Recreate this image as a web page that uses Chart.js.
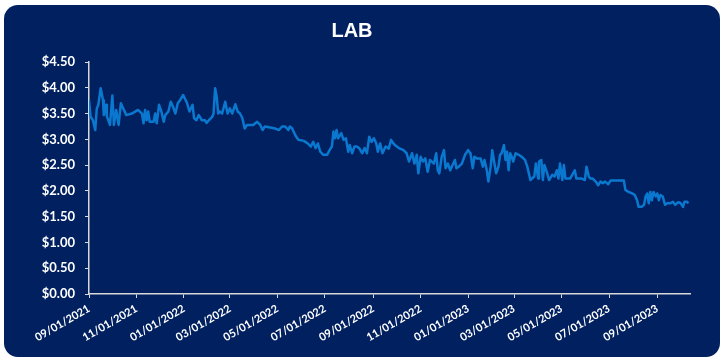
<!DOCTYPE html>
<html>
<head>
<meta charset="utf-8">
<script src="https://cdn.jsdelivr.net/npm/chart.js@4.4.1/dist/chart.umd.min.js"></script>
<style>
  html, body { margin: 0; padding: 0; background: #ffffff; }
  .card {
    position: absolute; left: 4px; top: 5px;
    width: 716px; height: 352px;
    background: #002060; border-radius: 14px; overflow: hidden;
  }
  canvas { display: block; }
</style>
</head>
<body>
<div class="card"><canvas id="labChart" width="716" height="352"></canvas></div>
<script>
// days since 09/01/2021 for each observation
const dayOffsets = [
  0, 2, 5, 8, 10, 12, 15, 18, 19, 22, 23, 27, 30, 32, 35, 38, 41, 44, 48, 55, 63, 68, 70, 72, 74, 76, 78, 83, 85, 87, 90, 93, 96, 98, 102, 105, 108, 111, 114, 117, 121, 126, 129,
  133, 135, 138, 141, 145, 149, 151, 154, 158, 160, 162, 164, 166, 168, 171, 175, 178, 181, 184, 188, 191, 194, 197, 200, 203, 207, 211, 216, 220, 223, 226, 233, 239, 244, 248, 252, 256,
  258, 261, 265, 269, 276, 281, 285, 288, 291, 294, 297, 301, 306, 309, 312, 314, 316, 318, 320, 324, 327, 330, 333, 335, 338, 341, 344, 347, 351, 354, 357, 360, 363, 366, 369, 371, 374, 377, 381, 385, 388,
  391, 393, 398, 404, 408, 411, 415, 418, 421, 423, 426, 429, 432, 435, 438, 443, 446, 448, 450, 453, 456, 458, 461, 464, 466, 470, 472, 475, 479, 483, 487, 490, 493, 495, 498, 503, 506, 508, 511, 513, 516,
  518, 520, 523, 526, 528, 530, 533, 535, 537, 539, 541, 543, 545, 548, 552, 556, 560, 563, 567, 569, 572, 574, 577, 578, 581, 583, 585, 588, 591, 595, 598, 601, 603, 605, 608, 610, 612, 618, 624, 626, 633, 637, 639, 642,
  644, 647, 651, 654, 657, 660, 663, 667, 670, 680, 687, 689, 693, 698, 701, 704, 706, 710, 713, 715, 717, 719, 721, 723, 725, 728, 730, 732, 734, 737, 740, 743, 747, 750, 753, 757, 760, 763, 765, 768, 770
];

const prices = [
  3.76, 3.44, 3.37, 3.18, 3.60, 3.67, 3.99, 3.76, 3.47, 3.67, 3.44, 3.28, 3.85, 3.28, 3.57, 3.28, 3.70, 3.60, 3.47, 3.50, 3.57, 3.50, 3.31, 3.57, 3.37, 3.54, 3.34, 3.34, 3.50, 3.31, 3.67, 3.54, 3.34, 3.47, 3.54, 3.73, 3.63, 3.50, 3.70, 3.76, 3.86, 3.70, 3.54,
  3.67, 3.41, 3.37, 3.47, 3.37, 3.37, 3.32, 3.37, 3.43, 3.50, 3.99, 3.83, 3.50, 3.54, 3.50, 3.73, 3.50, 3.60, 3.50, 3.68, 3.54, 3.50, 3.41, 3.21, 3.28, 3.28, 3.28, 3.34, 3.28, 3.18, 3.25, 3.23, 3.21, 3.18, 3.25, 3.25, 3.18,
  3.25, 3.21, 3.08, 2.99, 2.97, 2.92, 2.86, 2.95, 2.83, 2.92, 2.76, 2.70, 2.70, 2.79, 2.86, 3.15, 3.02, 3.18, 3.02, 3.12, 2.99, 3.02, 2.76, 2.89, 2.73, 2.86, 2.86, 2.83, 2.73, 2.83, 2.73, 3.05, 2.95, 3.02, 2.92, 2.76, 2.92, 2.73, 2.86, 2.82, 2.99,
  2.92, 2.89, 2.83, 2.79, 2.73, 2.57, 2.73, 2.53, 2.70, 2.34, 2.66, 2.57, 2.63, 2.37, 2.60, 2.53, 2.73, 2.40, 2.34, 2.66, 2.79, 2.44, 2.53, 2.40, 2.47, 2.60, 2.44, 2.47, 2.53, 2.70, 2.79, 2.73, 2.44, 2.66, 2.63, 2.63, 2.47, 2.60, 2.40, 2.18, 2.47,
  2.79, 2.60, 2.34, 2.47, 2.70, 2.73, 2.89, 2.60, 2.76, 2.40, 2.73, 2.66, 2.57, 2.73, 2.70, 2.66, 2.60, 2.47, 2.21, 2.24, 2.28, 2.53, 2.24, 2.57, 2.60, 2.21, 2.50, 2.37, 2.21, 2.31, 2.28, 2.40, 2.24, 2.53, 2.21, 2.50, 2.24, 2.24, 2.40, 2.24, 2.24, 2.21, 2.47, 2.28,
  2.24, 2.24, 2.18, 2.11, 2.18, 2.15, 2.18, 2.13, 2.20, 2.20, 2.20, 2.02, 1.98, 1.95, 1.92, 1.82, 1.69, 1.69, 1.73, 1.89, 1.95, 1.76, 1.98, 1.82, 1.98, 1.89, 1.95, 1.82, 1.92, 1.89, 1.73, 1.76, 1.76, 1.79, 1.73, 1.78, 1.76, 1.69, 1.79, 1.79, 1.76
];

const tickLabels = [
  '09/01/2021', '11/01/2021', '01/01/2022', '03/01/2022', '05/01/2022', '07/01/2022', '09/01/2022',
  '11/01/2022', '01/01/2023', '03/01/2023', '05/01/2023', '07/01/2023', '09/01/2023'
];

const lastDay = 772;

const startUtc = Date.UTC(2021, 8, 1);
const tickDays = tickLabels.map(s => {
  const [m, d, y] = s.split('/').map(Number);
  return Math.round((Date.UTC(y, m - 1, d) - startUtc) / 86400000);
});

const axisColor = '#d9d9d9';
const points = dayOffsets.map((d, i) => ({ x: d, y: prices[i] }));

new Chart(document.getElementById('labChart'), {
  type: 'line',
  data: {
    datasets: [{
      data: points,
      borderColor: '#0a78cf',
      borderWidth: 2.5,
      borderJoinStyle: 'round',
      pointRadius: 0,
      tension: 0,
      fill: false,
    }]
  },
  options: {
    responsive: false,
    animation: false,
    layout: { padding: { left: 10, right: 30, top: 0, bottom: 0 } },
    plugins: {
      legend: { display: false },
      tooltip: { enabled: false },
      title: {
        display: true,
        text: 'LAB',
        color: '#ffffff',
        font: { family: 'Liberation Sans', size: 20, weight: 'bold', lineHeight: 1.2 },
        padding: { top: 14, bottom: 19 },
      },
    },
    scales: {
      x: {
        type: 'linear',
        min: 0,
        max: lastDay,
        afterBuildTicks: scale => { scale.ticks = tickDays.map(v => ({ value: v })); },
        afterFit: scale => { scale.height = 63; },
        grid: { drawOnChartArea: false, drawTicks: true, tickLength: 4, color: axisColor },
        border: { color: axisColor, width: 1.5 },
        ticks: {
          autoSkip: false,
          minRotation: 30,
          maxRotation: 30,
          padding: 4,
          color: '#ffffff',
          font: { family: 'Lato', size: 11, weight: 'bold' },
          callback: (v, i) => tickLabels[i],
        },
      },
      y: {
        min: 0,
        max: 4.5,
        afterFit: scale => { scale.width = 75; },
        grid: { drawOnChartArea: false, drawTicks: true, tickLength: 4, color: axisColor },
        border: { color: axisColor, width: 1.5 },
        ticks: {
          stepSize: 0.5,
          padding: 10,
          color: '#ffffff',
          font: { family: 'Lato', size: 13, weight: 'bold' },
          callback: v => '$' + v.toFixed(2),
        },
      },
    },
  },
});
</script>
</body>
</html>
